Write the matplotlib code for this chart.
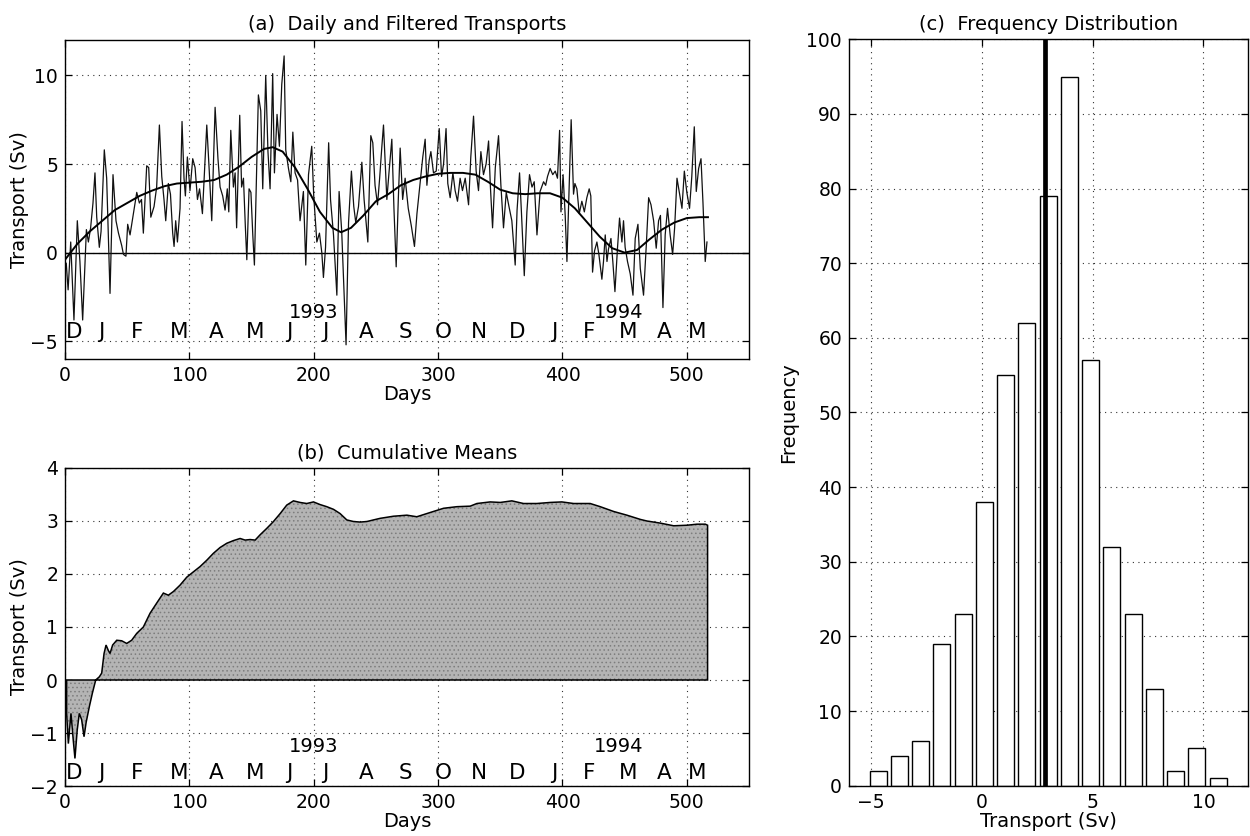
import numpy as np
import matplotlib
matplotlib.use("Agg")
import matplotlib.pyplot as plt

plt.rcParams['font.family'] = ['DejaVu Sans']
plt.rcParams['axes.linewidth'] = 1.0
plt.rcParams['hatch.color'] = '#7d7d7d'
plt.rcParams['hatch.linewidth'] = 0.6

# ---------------- daily transport (turning points, Sv) ----------------
daily_day = [
    1, 2.5, 4.6, 7.2, 9.9, 12, 14.2, 17.2, 18.8, 20.6, 22.5, 24.1, 25.5, 27.6, 29,
    31.6, 33.5, 36.2, 38.6, 41, 43, 45.6, 47, 49, 50.4, 52.3, 55, 57.7, 59.8, 61.5,
    63, 65.7, 67.3, 69, 71.6, 73.7, 75.9, 77.8, 79.6, 81, 83.1, 84.8, 86.6, 87.7, 89,
    90.4, 92.5, 94.1, 95.7, 96.8, 98.4, 100.5, 102.7, 104.6, 106.5, 108.2, 110.5, 114, 116,
    118, 120.7, 123, 124.7, 126.8, 128.7, 130.5, 131.7, 133.3, 135.4, 136.8, 138, 140.5, 142,
    143.5, 145, 146.2, 148, 149.5, 151, 152.3, 155.5, 157.4, 159, 161.4, 163.2, 164.9, 167,
    168.4, 170.5, 172.4, 174.3, 176.2, 177.5, 179.7, 181.6, 183.2, 185, 187, 189, 191.7, 193.6,
    195.8, 198.4, 200, 202.5, 204.6, 206.5, 207.8, 209.5, 212, 213.5, 215.9, 218.6, 220.4, 222.5,
    224, 226, 228, 230.3, 232.2, 233.8, 236, 238.7, 240.5, 243.5, 245.9, 247.5, 249.3, 251.3,
    253, 254.8, 256.1, 258.8, 260.5, 262.8, 264.5, 266.3, 268, 269.5, 271.5, 273.5, 276, 278.5,
    281, 283, 285.6, 287.7, 289.6, 291, 292.8, 294.2, 296.3, 298.5, 300.9, 302.8, 304.4, 306.4,
    307.8, 309.7, 311.9, 313.7, 315.6, 317.7, 319.6, 321.8, 324.5, 326.3, 328.5, 330.6, 332.5, 334.4,
    336.5, 338.6, 340.6, 342, 343.8, 346, 348.6, 350.5, 352.6, 354.8, 357, 359.3, 362, 363.5,
    365.5, 367, 369.3, 371.4, 373.5, 375.5, 377.3, 379.5, 382, 384.8, 386.5, 388, 390.1, 392.2,
    394.2, 396, 397.7, 398.8, 400.5, 402.2, 403.6, 405, 407, 408.9, 410, 411.6, 413.5, 415.6,
    417.6, 419.6, 421.5, 422.8, 424.2, 425.8, 427.7, 429.3, 431.7, 433, 434.4, 435.8, 437, 439,
    440.5, 442.2, 444.2, 445.9, 447.8, 449.1, 450.4, 452.3, 454.5, 456.7, 458.5, 460.7, 462.6, 465.2,
    467.4, 469.3, 471.2, 473.3, 475.4, 477.3, 478.8, 480.8, 482.6, 484.5, 486.6, 488.6, 490.2, 492.1,
    494.2, 496.1, 498, 500, 502.2, 504, 506, 507.6, 509.5, 511.4, 513, 514.8, 516.2,
]
daily_sv = [
    -0.6, -2.1, 0.6, -3.8, 1.8, -0.5, -3.8, 1.3, 0.6, 1.4, 2.8, 4.5, 2.0, 0.3, 1.2,
    5.8, 4.2, -2.3, 4.4, 1.8, 1.1, 0.4, -0.1, -0.2, 1.6, 1.0, 2.2, 3.4, 2.8, 3.0,
    1.1, 4.9, 4.8, 2.0, 2.6, 3.7, 7.2, 4.3, 3.0, 1.8, 3.9, 3.3, 1.1, 0.35, 1.8,
    0.6, 2.5, 7.4, 4.2, 3.2, 5.4, 3.5, 5.3, 4.8, 3.0, 3.6, 2.2, 7.2, 4.6,
    1.8, 8.2, 5.3, 3.7, 3.2, 2.4, 3.6, 2.3, 6.9, 3.7, 4.5, 1.4, 7.75, 3.7,
    4.2, 1.5, -0.4, 3.6, 3.4, 1.0, -0.7, 8.9, 8.0, 3.6, 10.0, 5.7, 3.6, 10.1,
    4.5, 7.8, 6.0, 9.5, 11.1, 5.8, 4.75, 4.0, 6.8, 4.5, 4.1, 1.8, 3.45, -0.7,
    4.4, 6.0, 3.2, 0.6, 1.1, 0.0, -1.4, 0.3, 6.2, 3.0, 1.0, -2.4, 3.45, 1.2,
    -1.5, -5.2, 1.7, 4.6, 2.6, 1.7, 2.6, 5.1, 3.0, 0.6, 6.6, 6.2, 3.8, 2.7,
    4.2, 6.0, 7.2, 3.0, 4.5, 6.4, 2.5, -0.8, 3.0, 5.9, 3.0, 4.2, 2.5, 1.5,
    0.35, 2.2, 4.0, 5.4, 6.4, 3.8, 5.2, 5.7, 4.5, 4.6, 7.0, 4.3, 5.0, 7.0,
    3.9, 3.1, 4.5, 3.5, 2.9, 4.2, 3.5, 4.2, 2.7, 5.4, 7.7, 4.6, 3.5, 5.7,
    4.4, 5.0, 6.3, 3.8, 1.4, 4.8, 6.6, 3.8, 1.4, 3.4, 2.6, 1.8, -0.7, 2.4,
    4.5, 2.3, -1.3, 2.3, 4.4, 3.7, 4.0, 1.0, 3.45, 4.0, 3.8, 4.3, 4.75, 4.4,
    4.6, 4.2, 6.9, 2.3, 4.4, 2.1, -0.5, 2.8, 7.5, 3.3, 3.9, 3.6, 2.2, 2.9,
    2.3, 3.1, 3.6, 3.2, -1.1, 0.1, 0.6, -0.1, -1.5, -0.5, 1.0, -0.5, 0.2, 0.8,
    -0.5, -2.2, 0.2, 1.95, 0.6, 1.8, 0.3, -0.5, -1.2, -2.4, 0.8, 1.6, -0.9, -2.4,
    0.4, 3.1, 2.7, 1.8, 0.25, 1.8, 2.1, -3.1, 1.0, 2.5, 1.0, -0.1, 1.4, 4.2,
    3.3, 2.5, 4.6, 3.4, 2.5, 4.3, 7.1, 3.45, 4.75, 5.3, 2.8, -0.5, 0.6,
]

# low-pass filtered transport (Sv)
filt_day = [0, 10, 20, 30, 40, 50, 60, 70, 80, 90, 100, 110, 120, 130, 140, 150, 160, 167,
            175, 185, 195, 205, 215, 222, 230, 240, 250, 260, 270, 280, 290, 300, 310, 320,
            330, 340, 350, 360, 370, 380, 390, 400, 410, 420, 430, 440, 450, 460, 470, 480,
            490, 500, 510, 517]
filt_sv = [-0.4, 0.5, 1.2, 1.8, 2.4, 2.8, 3.2, 3.5, 3.75, 3.9, 3.95, 4.0, 4.1, 4.4, 4.85,
           5.4, 5.85, 5.95, 5.7, 4.8, 3.6, 2.3, 1.4, 1.15, 1.4, 2.1, 2.9, 3.3, 3.8, 4.1, 4.3,
           4.45, 4.5, 4.5, 4.4, 4.0, 3.55, 3.35, 3.3, 3.35, 3.35, 3.1, 2.5, 1.7, 0.9, 0.25,
           0.0, 0.15, 0.75, 1.3, 1.7, 1.95, 2.0, 2.0]

# ---------------- cumulative mean (Sv) ----------------
cum_day = [1.3, 2.7, 4.8, 6.5, 8, 9.8, 11.5, 13.4, 15.3, 17, 19.6, 22, 24.7, 27.6, 29.5,
           31.4, 33, 34.8, 36.2, 38.3, 41.6, 45.6, 49.6, 53.6, 57.7, 63, 68.4, 73.7, 79.1,
           83.1, 87.2, 92.5, 97.9, 103.2, 108.6, 114, 119.3, 124.7, 130.1, 135.4, 140.8,
           144.8, 148.8, 152.9, 156.9, 162.2, 167.6, 173, 178.3, 183.7, 189, 194.4, 199.8,
           205.1, 210.5, 215.9, 221.2, 226.6, 232, 237.3, 242.7, 248, 253.4, 264.1, 274.9,
           282.9, 293.6, 304.4, 315.1, 325.8, 331.2, 341.9, 350, 359.3, 368.7, 379.4, 390.2,
           399.5, 409, 422.3, 430.4, 441.1, 451.8, 462.6, 467.9, 478.7, 489.4, 500.1, 508.2,
           514.9, 516.7]
cum_sv = [-0.63, -1.2, -0.63, -1.1, -1.48, -0.95, -0.63, -0.75, -1.07, -0.8, -0.5, -0.25,
          0.0, 0.06, 0.13, 0.5, 0.66, 0.56, 0.5, 0.66, 0.75, 0.74, 0.69, 0.75, 0.88, 1.0,
          1.26, 1.45, 1.64, 1.6, 1.67, 1.79, 1.94, 2.04, 2.14, 2.26, 2.39, 2.5, 2.58, 2.63,
          2.67, 2.64, 2.65, 2.64, 2.74, 2.86, 2.99, 3.14, 3.3, 3.38, 3.35, 3.33, 3.36, 3.31,
          3.27, 3.22, 3.14, 3.02, 2.99, 2.98, 2.99, 3.02, 3.05, 3.09, 3.11, 3.08, 3.16, 3.24,
          3.27, 3.28, 3.33, 3.36, 3.35, 3.38, 3.33, 3.33, 3.35, 3.36, 3.33, 3.33, 3.27, 3.18,
          3.11, 3.03, 3.0, 2.96, 2.91, 2.92, 2.94, 2.94, 2.92]

# ---------------- frequency distribution ----------------
hist_counts = [2, 4, 6, 19, 23, 38, 55, 62, 79, 95, 57, 32, 23, 13, 2, 5, 1]
hist_min, hist_max = -5.17, 11.14
mean_transport = 2.87

# month initials and the day each is centred on
month_labels = ['D', 'J', 'F', 'M', 'A', 'M', 'J', 'J', 'A', 'S', 'O', 'N', 'D',
                'J', 'F', 'M', 'A', 'M']
month_day = [7.2, 29, 57.7, 92, 121.5, 153, 180, 209.7, 242, 273.5, 304.4, 332.5,
             363.3, 393.4, 421, 453.2, 481.9, 508.2]
year_labels = ['1993', '1994']
year_day = [200, 445.5]

TICK_FS = 13.5
LABEL_FS = 14
MONTH_FS = 15.5
GRID = dict(color='#333333', linestyle=(0, (1, 4)), linewidth=0.8)


def style_axes(ax):
    ax.tick_params(direction='in', length=5, width=0.9, top=True, right=True,
                   labelsize=TICK_FS, pad=5)
    ax.grid(True, **GRID)
    ax.set_axisbelow(True)


fig = plt.figure(figsize=(12.5, 8.36), dpi=100)

# (a) daily and filtered transports
ax1 = fig.add_axes([0.052, 0.5706, 0.5472, 0.3816])
ax1.axhline(0, color='black', lw=1.0)
ax1.plot(daily_day, daily_sv, color='#111111', lw=0.9)
ax1.plot(filt_day, filt_sv, color='black', lw=1.4)
ax1.set_xlim(0, 550)
ax1.set_ylim(-6, 12)
ax1.set_xticks([0, 100, 200, 300, 400, 500])
ax1.set_yticks([-5, 0, 5, 10])
style_axes(ax1)
for lab, d in zip(month_labels, month_day):
    ax1.text(d, -4.45, lab, ha='center', va='center', fontsize=MONTH_FS)
for lab, d in zip(year_labels, year_day):
    ax1.text(d, -3.4, lab, ha='center', va='center', fontsize=14)
ax1.set_title('(a)  Daily and Filtered Transports', fontsize=LABEL_FS, pad=7)
ax1.set_xlabel('Days', fontsize=LABEL_FS, labelpad=0)
ax1.set_ylabel('Transport (Sv)', fontsize=LABEL_FS, labelpad=1)

# (b) cumulative means, shaded down to zero
ax2 = fig.add_axes([0.052, 0.0598, 0.5472, 0.3804])
poly_x = [cum_day[0]] + cum_day + [cum_day[-1]]
poly_y = [0] + cum_sv + [0]
ax2.fill(poly_x, poly_y, facecolor='#b4b4b4', hatch='....', lw=0, zorder=3)
ax2.fill(poly_x, poly_y, facecolor='none', edgecolor='black', lw=1.1, zorder=4)
ax2.set_xlim(0, 550)
ax2.set_ylim(-2, 4)
ax2.set_xticks([0, 100, 200, 300, 400, 500])
ax2.set_yticks([-2, -1, 0, 1, 2, 3, 4])
style_axes(ax2)
for lab, d in zip(month_labels, month_day):
    ax2.text(d, -1.75, lab, ha='center', va='center', fontsize=MONTH_FS)
for lab, d in zip(year_labels, year_day):
    ax2.text(d, -1.26, lab, ha='center', va='center', fontsize=14)
ax2.set_title('(b)  Cumulative Means', fontsize=LABEL_FS, pad=7)
ax2.set_xlabel('Days', fontsize=LABEL_FS, labelpad=0)
ax2.set_ylabel('Transport (Sv)', fontsize=LABEL_FS, labelpad=1)

# (c) frequency distribution with the record mean
ax3 = fig.add_axes([0.6792, 0.0602, 0.319, 0.8928])
edges = np.linspace(hist_min, hist_max, len(hist_counts) + 1)
centers = 0.5 * (edges[:-1] + edges[1:])
bin_w = edges[1] - edges[0]
ax3.bar(centers, hist_counts, width=0.8 * bin_w, facecolor='white',
        edgecolor='black', lw=1.0, zorder=2)
ax3.axvline(mean_transport, color='black', lw=3.4, zorder=3)
ax3.set_xlim(-6, 12)
ax3.set_ylim(0, 100)
ax3.set_xticks([-5, 0, 5, 10])
ax3.set_yticks(np.arange(0, 101, 10))
style_axes(ax3)
ax3.set_title('(c)  Frequency Distribution', fontsize=LABEL_FS, pad=7)
ax3.set_xlabel('Transport (Sv)', fontsize=LABEL_FS, labelpad=0)
ax3.set_ylabel('Frequency', fontsize=LABEL_FS, labelpad=6)

fig.savefig('out.png', dpi=100)
